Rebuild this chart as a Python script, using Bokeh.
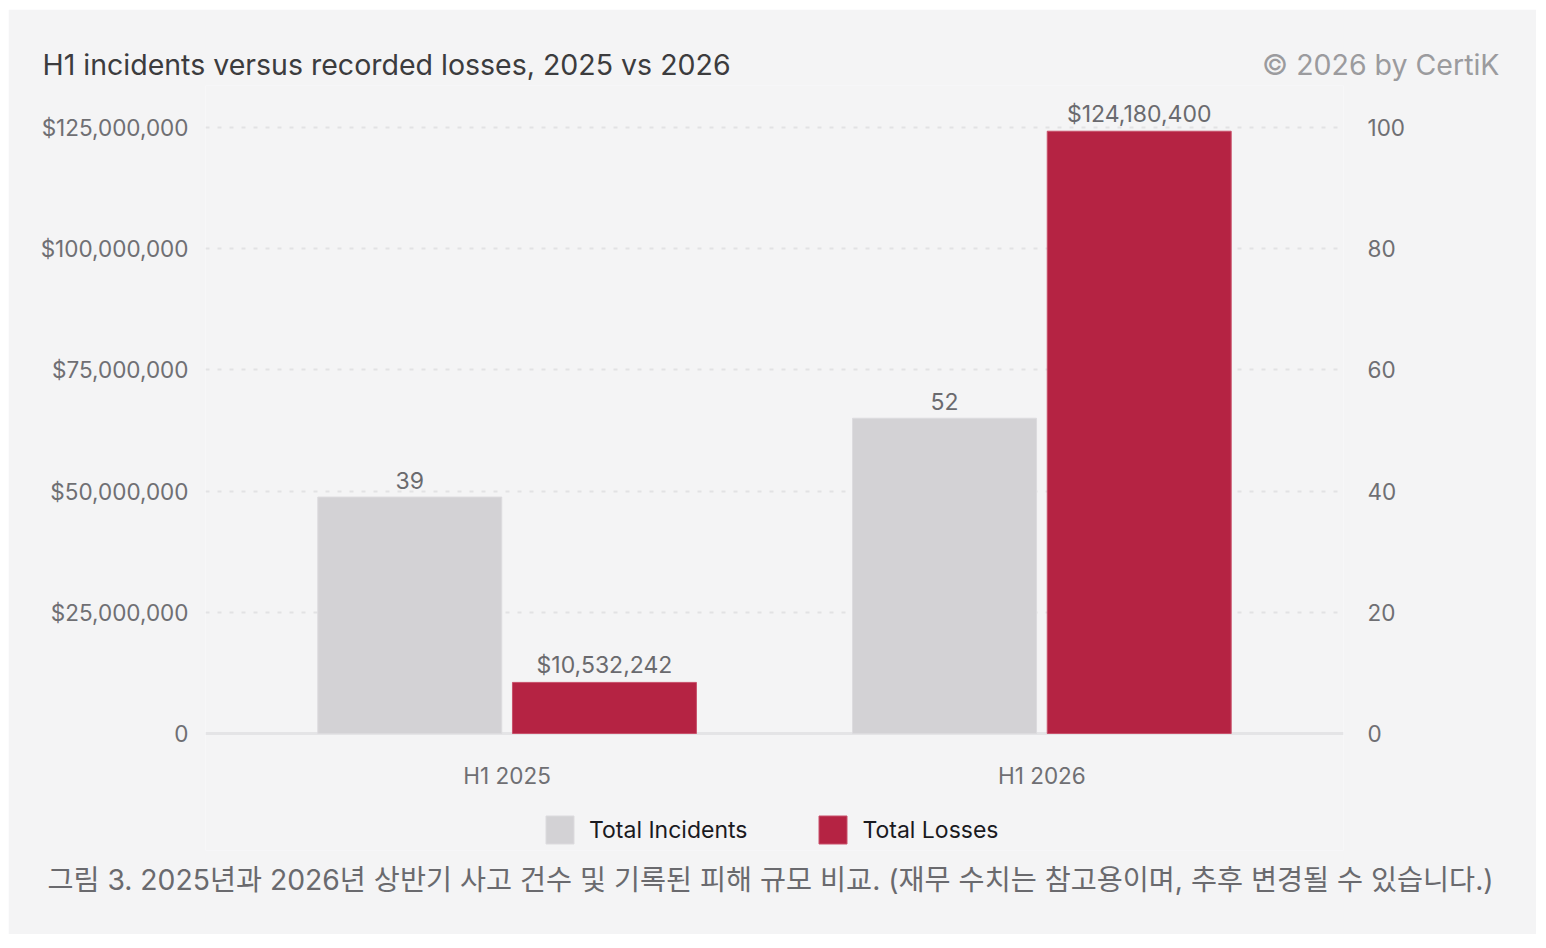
from bokeh.plotting import figure
from bokeh.models import (Range1d, LinearAxis, FixedTicker, FactorRange, ColumnDataSource,
                          Label, Legend, LegendItem, Span)
from bokeh.transform import dodge
from bokeh.core.properties import value
from bokeh.embed import file_html
from bokeh.resources import INLINE

# ---- data ----
periods = ["H1 2025", "H1 2026"]
incidents = [39, 52]
losses = [10532242, 124180400]
series_names = ["Total Incidents", "Total Losses"]
loss_ticks = [0, 25_000_000, 50_000_000, 75_000_000, 100_000_000, 125_000_000]
loss_tick_labels = ["0", "$25,000,000", "$50,000,000", "$75,000,000", "$100,000,000", "$125,000,000"]
incident_ticks = [0, 20, 40, 60, 80, 100]
title_text = "H1 incidents versus recorded losses, 2025 vs 2026"
credit_text = "\u00a9 2026 by CertiK"
caption_text = "그림 3. 2025년과 2026년 상반기 사고 건수 및 기록된 피해 규모 비교. (재무 수치는 참고용이며, 추후 변경될 수 있습니다.)"

BG = "#f4f4f5"
GRAY = "#d3d2d5"
RED = "#b52343"
FONT = "Inter"
PX_PER_M = 4.85          # vertical scale of the dollar axis (pixels per million)
ZERO_FROM_TOP = 648      # frame top -> zero line, pixels
BELOW_ZERO = 117         # zero line -> frame bottom (room for the legend), pixels
FRAME_W = 1138
LOSS_END = ZERO_FROM_TOP / PX_PER_M * 1_000_000
LOSS_START = -BELOW_ZERO / PX_PER_M * 1_000_000
INC_END = LOSS_END / 1_250_000     # 125M on the left lines up with 100 on the right
INC_START = LOSS_START / 1_250_000

def y_at(page_dy):
    """data value (dollars) that sits page_dy pixels above the zero line"""
    return page_dy / PX_PER_M * 1_000_000

src = ColumnDataSource(dict(
    period=periods,
    incidents=incidents,
    losses=losses,
    inc_label=[str(v) for v in incidents],
    loss_label=["${:,}".format(v) for v in losses],
))

p = figure(
    frame_width=FRAME_W, frame_height=ZERO_FROM_TOP + BELOW_ZERO,
    x_range=FactorRange(factors=periods, range_padding=0.064, range_padding_units="absolute"),
    y_range=Range1d(LOSS_START, LOSS_END),
    output_backend="svg", toolbar_location=None,
    background_fill_color=BG, border_fill_color=BG, outline_line_color=None,
    min_border_left=197, min_border_right=193, min_border_top=76, min_border_bottom=84,
)
p.margin = (9, 0, 0, 8)
p.extra_y_ranges = {"inc": Range1d(INC_START, INC_END)}

# grid
p.xgrid.grid_line_color = None
p.ygrid.ticker = FixedTicker(ticks=loss_ticks[1:])
p.ygrid.grid_line_color = "#e2e2e4"
p.ygrid.grid_line_width = 2
p.ygrid.grid_line_dash = "4 8"
p.add_layout(Span(location=loss_ticks[0], dimension="width", line_color="#e4e4e6",
                  line_width=3, level="underlay"))

# axes
def style_axis(ax, size="22.5px"):
    ax.axis_line_color = None
    ax.major_tick_line_color = None
    ax.minor_tick_line_color = None
    ax.major_tick_out = 0
    ax.major_tick_in = 0
    ax.minor_tick_out = 0
    ax.minor_tick_in = 0
    ax.major_label_text_font = FONT
    ax.major_label_text_font_size = size
    ax.major_label_text_color = "#6f6f73"

p.yaxis.ticker = FixedTicker(ticks=loss_ticks)
p.yaxis.major_label_overrides = dict(zip(loss_ticks, loss_tick_labels))
p.yaxis.major_label_standoff = 17
style_axis(p.yaxis[0])

rax = LinearAxis(y_range_name="inc", ticker=FixedTicker(ticks=incident_ticks))
rax.major_label_standoff = 24
style_axis(rax)
p.add_layout(rax, "right")

xax = p.xaxis[0]
style_axis(xax)
xax.major_label_standoff = 28
xax.fixed_location = 0     # category labels hang from the zero line

# bars
r_inc = p.vbar(x=dodge("period", -0.182, range=p.x_range), top="incidents", width=0.344,
               source=src, y_range_name="inc", fill_color=GRAY, line_color="#dcdbde", line_width=1)
r_loss = p.vbar(x=dodge("period", 0.182, range=p.x_range), top="losses", width=0.344,
                source=src, fill_color=RED, line_color="#c8506a", line_width=1)

# value labels
p.text(x=dodge("period", -0.182, range=p.x_range), y="incidents", text="inc_label", source=src,
       y_range_name="inc", text_align="center", text_baseline="middle", y_offset=-17,
       text_font=value(FONT), text_font_size="23px", text_color="#6a6a6e")
p.text(x=dodge("period", 0.182, range=p.x_range), y="losses", text="loss_label", source=src,
       text_align="center", text_baseline="middle", y_offset=-17,
       text_font=value(FONT), text_font_size="23px", text_color="#6a6a6e")

# legend (inside the lower part of the frame, under the category labels)
legend = Legend(
    items=[LegendItem(label=series_names[0], renderers=[r_inc]),
           LegendItem(label=series_names[1], renderers=[r_loss])],
    orientation="horizontal", location=(337, 3),
    glyph_width=35, glyph_height=35, label_standoff=12, spacing=68,
    padding=0, margin=0, border_line_alpha=0, background_fill_alpha=0,
    label_text_font=FONT, label_text_font_size="23px", label_text_color="#1a1a1f",
    label_height=35,
)
p.add_layout(legend)

# header texts (side-panel labels, placed on the chart's own vertical scale)
p.add_layout(Label(x=-163, x_units="screen", y=y_at(733 - 64), y_units="data", text=title_text,
                   text_font=FONT, text_font_size="28.5px", text_color="#3c3c3e",
                   text_baseline="middle"), "above")
p.add_layout(Label(x=1294, x_units="screen", y=y_at(733 - 64), y_units="data", text=credit_text,
                   text_font=FONT, text_font_size="28.5px", text_color="#9b9b9e",
                   text_align="right", text_baseline="middle"), "above")

# caption
p.add_layout(Label(x=565, x_units="screen", y=y_at(733 - 879), y_units="data", text=caption_text,
                   text_font="Inter, 'Noto Sans CJK KR'", text_font_size="28.3px",
                   text_color="#6a6a6e", text_align="center", text_baseline="middle"), "below")

open("out.html", "w").write(file_html(p, INLINE))
